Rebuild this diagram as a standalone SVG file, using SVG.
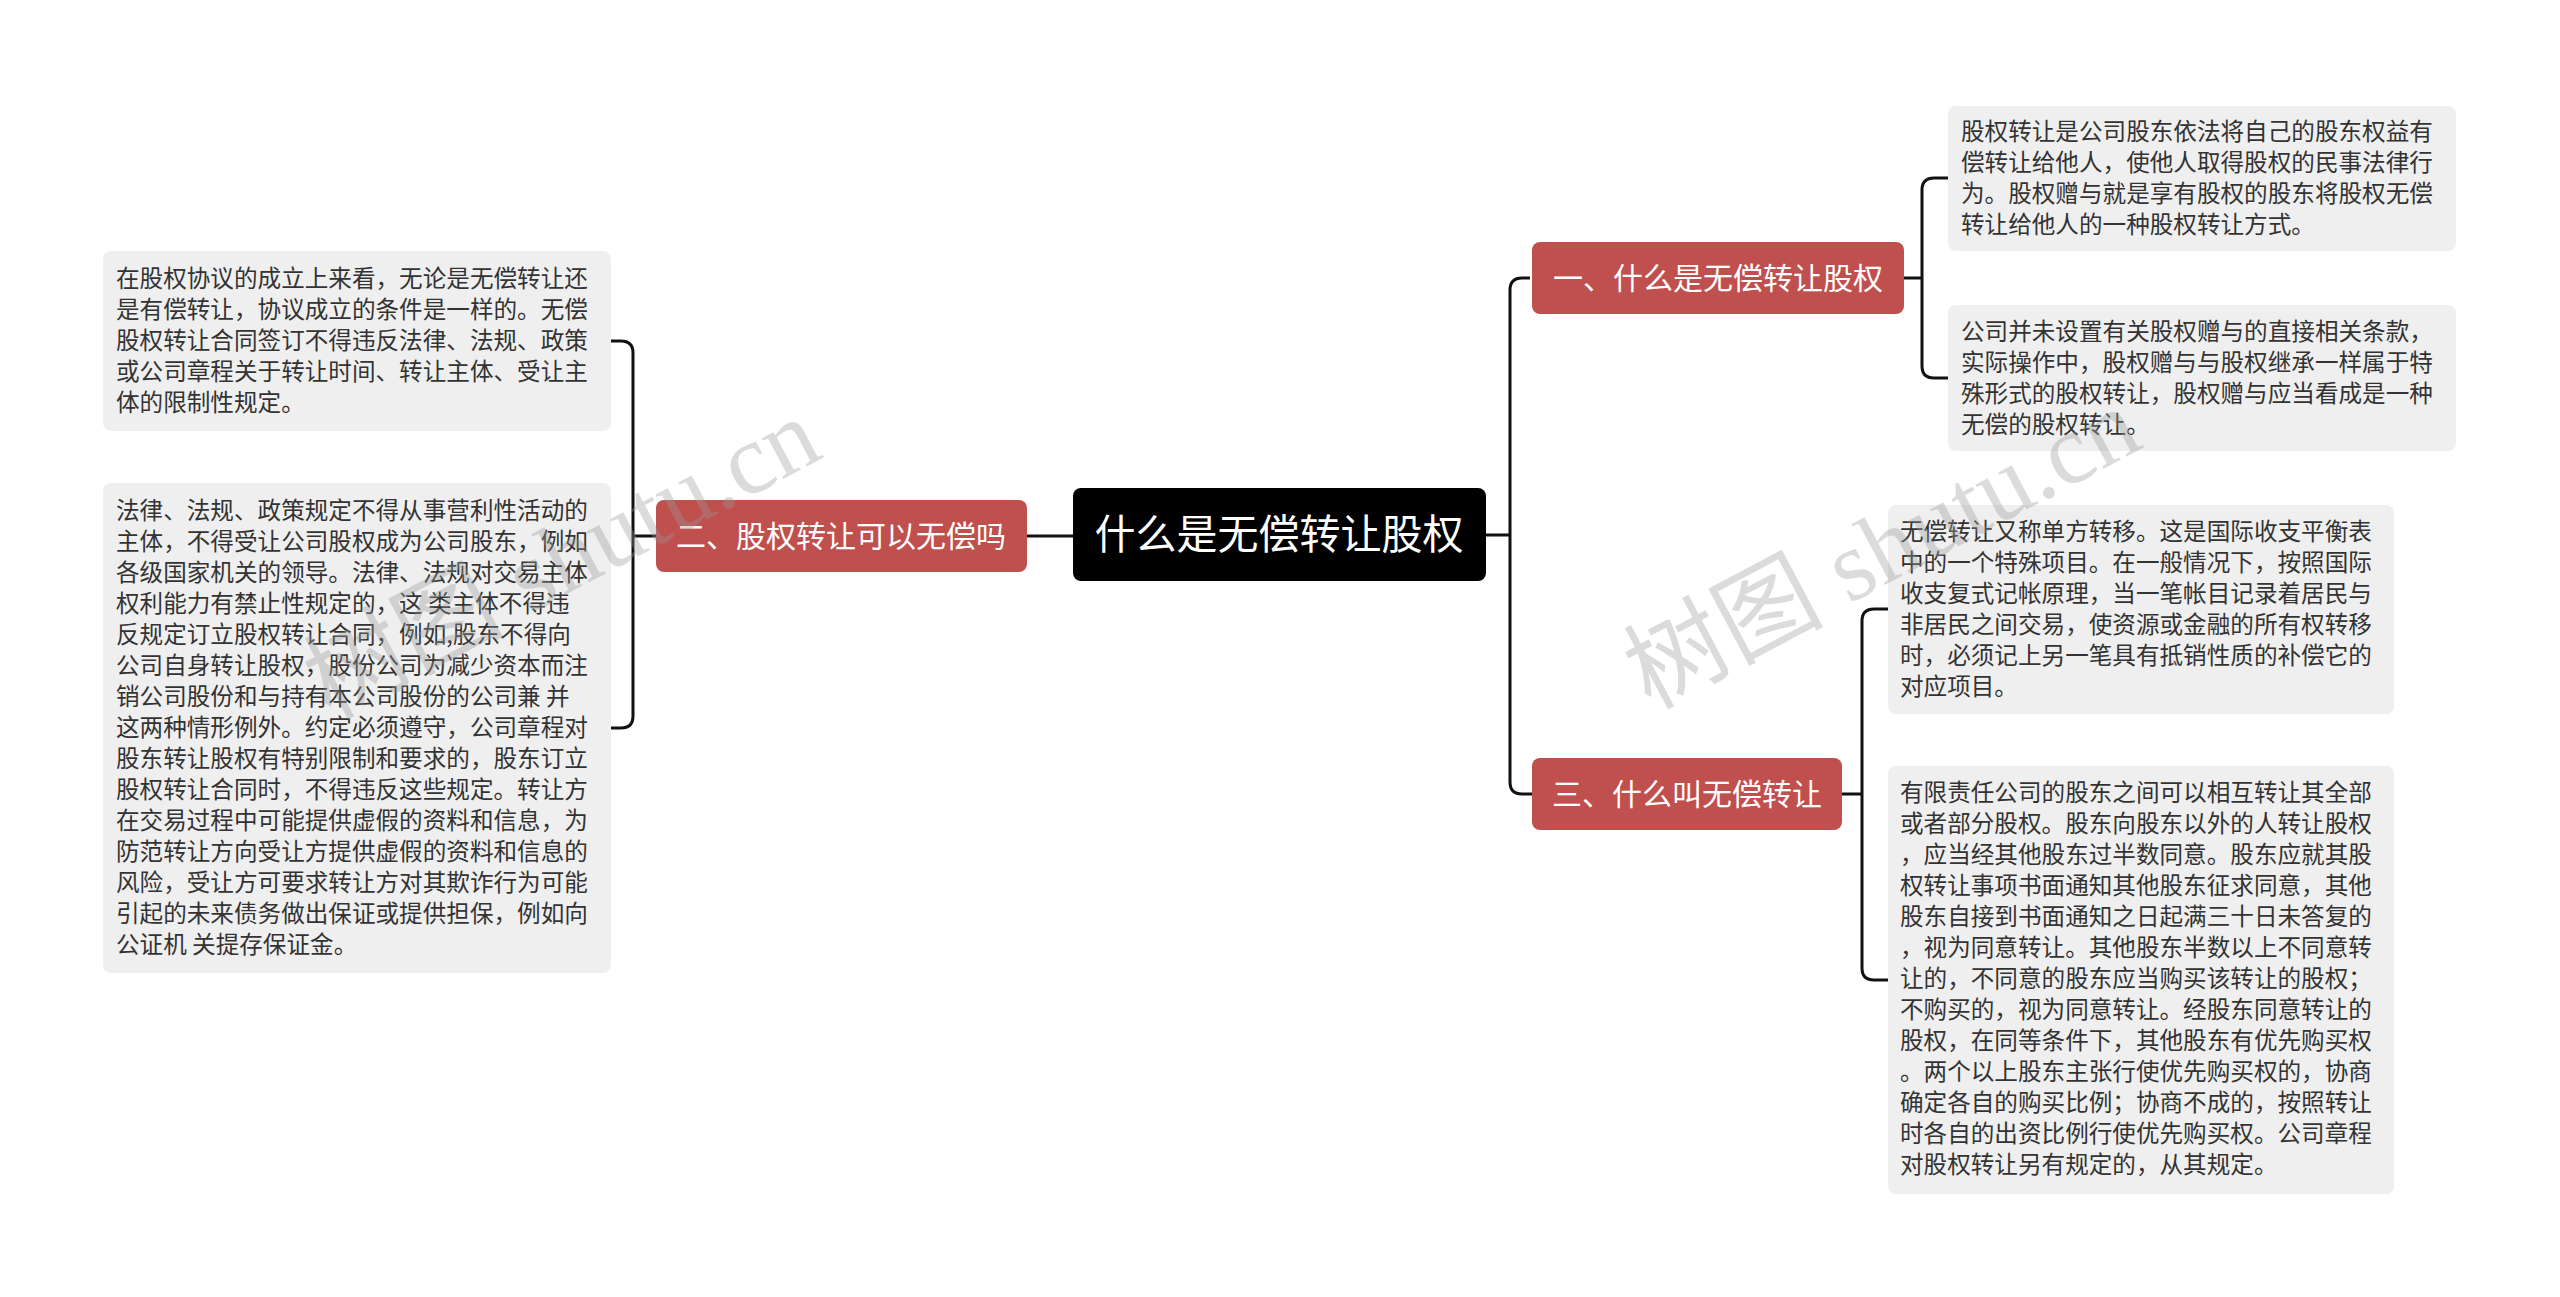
<svg xmlns="http://www.w3.org/2000/svg" width="2560" height="1297" viewBox="0 0 2560 1297">
<style>
text{font-family:"Noto Sans CJK SC","Noto Sans",sans-serif}
.leaf rect{fill:#efefef}
.leaf text{font-size:23.6px;fill:#333}
.br rect{fill:#c0504d}
.br text{font-size:30px;fill:#fff}
.c{fill:none;stroke:#111;stroke-width:3}
.wm{font-size:100px;fill:#999;opacity:0.35;font-family:"Liberation Serif","Noto Sans CJK SC",serif}
</style>
<rect width="2560" height="1297" fill="#fff"/>
<g id="connectors">
<path class="c" d="M1486 535H1510M1530 278H1522Q1510 278 1510 290V782Q1510 794 1522 794H1532"/>
<path class="c" d="M1904 278H1922M1948 178H1934Q1922 178 1922 190V366Q1922 378 1934 378H1948"/>
<path class="c" d="M1842 794H1862M1888 609H1874Q1862 609 1862 621V968Q1862 980 1874 980H1888"/>
<path class="c" d="M1073 536H1027M656 536H633M611 341H621Q633 341 633 353V716Q633 728 621 728H611"/>
</g>
<g id="root"><rect x="1073" y="488" width="413" height="93" rx="8" fill="#000"/><text x="1279" y="549" font-size="41" fill="#fff" text-anchor="middle">什么是无偿转让股权</text></g>
<g id="b1" class="br"><rect x="1532" y="242" width="372" height="72" rx="8"/><text x="1718" y="289" text-anchor="middle">一、什么是无偿转让股权</text></g>
<g id="b3" class="br"><rect x="1532" y="758" width="310" height="72" rx="8"/><text x="1687" y="805" text-anchor="middle">三、什么叫无偿转让</text></g>
<g id="b2" class="br"><rect x="656" y="500" width="371" height="72" rx="8"/><text x="841" y="547" text-anchor="middle">二、股权转让可以无偿吗</text></g>
<g id="l1a" class="leaf"><rect x="1948" y="106" width="508" height="145" rx="8"/><text x="1961" y="140"><tspan x="1961">股权转让是公司股东依法将自己的股东权益有</tspan><tspan x="1961" dy="31">偿转让给他人，使他人取得股权的民事法律行</tspan><tspan x="1961" dy="31">为。股权赠与就是享有股权的股东将股权无偿</tspan><tspan x="1961" dy="31">转让给他人的一种股权转让方式。</tspan></text></g>
<g id="l1b" class="leaf"><rect x="1948" y="305" width="508" height="146" rx="8"/><text x="1961" y="340"><tspan x="1961">公司并未设置有关股权赠与的直接相关条款，</tspan><tspan x="1961" dy="31">实际操作中，股权赠与与股权继承一样属于特</tspan><tspan x="1961" dy="31">殊形式的股权转让，股权赠与应当看成是一种</tspan><tspan x="1961" dy="31">无偿的股权转让。</tspan></text></g>
<g id="l3a" class="leaf"><rect x="1888" y="505" width="506" height="209" rx="8"/><text x="1900" y="540"><tspan x="1900">无偿转让又称单方转移。这是国际收支平衡表</tspan><tspan x="1900" dy="31">中的一个特殊项目。在一般情况下，按照国际</tspan><tspan x="1900" dy="31">收支复式记帐原理，当一笔帐目记录着居民与</tspan><tspan x="1900" dy="31">非居民之间交易，使资源或金融的所有权转移</tspan><tspan x="1900" dy="31">时，必须记上另一笔具有抵销性质的补偿它的</tspan><tspan x="1900" dy="31">对应项目。</tspan></text></g>
<g id="l3b" class="leaf"><rect x="1888" y="766" width="506" height="428" rx="8"/><text x="1900" y="801"><tspan x="1900">有限责任公司的股东之间可以相互转让其全部</tspan><tspan x="1900" dy="31">或者部分股权。股东向股东以外的人转让股权</tspan><tspan x="1900" dy="31">，应当经其他股东过半数同意。股东应就其股</tspan><tspan x="1900" dy="31">权转让事项书面通知其他股东征求同意，其他</tspan><tspan x="1900" dy="31">股东自接到书面通知之日起满三十日未答复的</tspan><tspan x="1900" dy="31">，视为同意转让。其他股东半数以上不同意转</tspan><tspan x="1900" dy="31">让的，不同意的股东应当购买该转让的股权；</tspan><tspan x="1900" dy="31">不购买的，视为同意转让。经股东同意转让的</tspan><tspan x="1900" dy="31">股权，在同等条件下，其他股东有优先购买权</tspan><tspan x="1900" dy="31">。两个以上股东主张行使优先购买权的，协商</tspan><tspan x="1900" dy="31">确定各自的购买比例；协商不成的，按照转让</tspan><tspan x="1900" dy="31">时各自的出资比例行使优先购买权。公司章程</tspan><tspan x="1900" dy="31">对股权转让另有规定的，从其规定。</tspan></text></g>
<g id="l2a" class="leaf"><rect x="103" y="251" width="508" height="180" rx="8"/><text x="116" y="287"><tspan x="116">在股权协议的成立上来看，无论是无偿转让还</tspan><tspan x="116" dy="31">是有偿转让，协议成立的条件是一样的。无偿</tspan><tspan x="116" dy="31">股权转让合同签订不得违反法律、法规、政策</tspan><tspan x="116" dy="31">或公司章程关于转让时间、转让主体、受让主</tspan><tspan x="116" dy="31">体的限制性规定。</tspan></text></g>
<g id="l2b" class="leaf"><rect x="103" y="483" width="508" height="490" rx="8"/><text x="116" y="519"><tspan x="116">法律、法规、政策规定不得从事营利性活动的</tspan><tspan x="116" dy="31">主体，不得受让公司股权成为公司股东，例如</tspan><tspan x="116" dy="31">各级国家机关的领导。法律、法规对交易主体</tspan><tspan x="116" dy="31">权利能力有禁止性规定的，这 类主体不得违</tspan><tspan x="116" dy="31">反规定订立股权转让合同，例如,股东不得向</tspan><tspan x="116" dy="31">公司自身转让股权，股份公司为减少资本而注</tspan><tspan x="116" dy="31">销公司股份和与持有本公司股份的公司兼 并</tspan><tspan x="116" dy="31">这两种情形例外。约定必须遵守，公司章程对</tspan><tspan x="116" dy="31">股东转让股权有特别限制和要求的，股东订立</tspan><tspan x="116" dy="31">股权转让合同时，不得违反这些规定。转让方</tspan><tspan x="116" dy="31">在交易过程中可能提供虚假的资料和信息，为</tspan><tspan x="116" dy="31">防范转让方向受让方提供虚假的资料和信息的</tspan><tspan x="116" dy="31">风险，受让方可要求转让方对其欺诈行为可能</tspan><tspan x="116" dy="31">引起的未来债务做出保证或提供担保，例如向</tspan><tspan x="116" dy="31">公证机 关提存保证金。</tspan></text></g>
<text class="wm" transform="translate(330 720) rotate(-28)">树图 shutu.cn</text>
<text class="wm" transform="translate(1650 710) rotate(-28)">树图 shutu.cn</text>
</svg>
